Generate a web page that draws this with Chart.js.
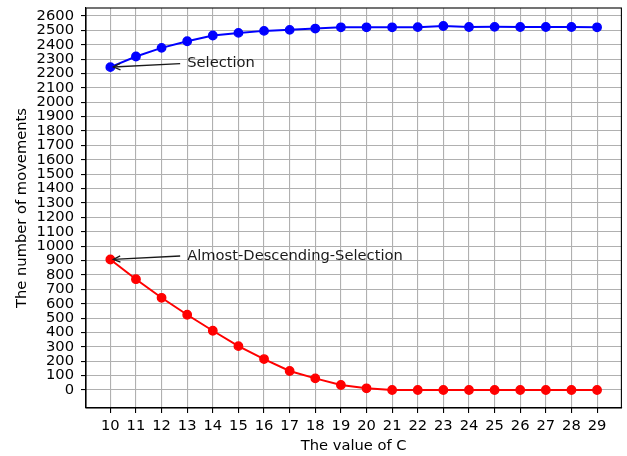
<!DOCTYPE html>
<html>
<head>
<meta charset="utf-8">
<script src="https://cdn.jsdelivr.net/npm/chart.js@4/dist/chart.umd.min.js"></script>
<style>
  html, body { margin: 0; padding: 0; background: #fff; }
  canvas { display: block; }
</style>
</head>
<body>
<canvas id="c" width="627" height="456"></canvas>
<script>
// ---- data ----
const cValues = [10,11,12,13,14,15,16,17,18,19,20,21,22,23,24,25,26,27,28,29];
const selection = [2244,2318,2378,2424,2464,2482,2496,2503,2512,2521,2521,2521,2522,2530,2523,2524,2523,2523,2523,2521];
const almostDescending = [907,770,641,523,412,305,215,132,81,35,12,0,0,0,0,0,0,0,0,0];
const xTickValues = [10,11,12,13,14,15,16,17,18,19,20,21,22,23,24,25,26,27,28,29];
const yTickValues = [0,100,200,300,400,500,600,700,800,900,1000,1100,1200,1300,1400,1500,1600,1700,1800,1900,2000,2100,2200,2300,2400,2500,2600];
const annotations = [
  { text: 'Selection', pointX: 10, pointY: 2244, textX: 13, textY: 2244 },
  { text: 'Almost-Descending-Selection', pointX: 10, pointY: 907, textX: 13, textY: 907 }
];

const FONT = 'DejaVu Sans';
const FS = 14.7;

const framePlugin = {
  id: 'frame',
  afterDraw(chart) {
    const { ctx, chartArea: a, scales } = chart;
    ctx.save();
    ctx.strokeStyle = '#000';
    ctx.lineWidth = 1.1;
    ctx.strokeRect(a.left, a.top, a.right - a.left, a.bottom - a.top);
    const xs = scales.x, ys = scales.y;
    ctx.font = FS + 'px "' + FONT + '"';
    ctx.fillStyle = '#1a1a1a';
    ctx.textAlign = 'left';
    ctx.textBaseline = 'alphabetic';
    annotations.forEach(an => {
      const tx = xs.getPixelForValue(an.textX);
      const ty = ys.getPixelForValue(an.textY);
      const px = xs.getPixelForValue(an.pointX);
      const py = ys.getPixelForValue(an.pointY);
      ctx.fillText(an.text, tx, ty);
      const sx = tx - 7, sy = ty - 3.5;
      const ang = Math.atan2(py - sy, px - sx);
      const ex = px - Math.cos(ang) * 3, ey = py - Math.sin(ang) * 3;
      ctx.strokeStyle = '#1a1a1a';
      ctx.lineWidth = 1.3;
      ctx.beginPath();
      ctx.moveTo(sx, sy);
      ctx.lineTo(ex, ey);
      ctx.stroke();
      const hl = 7, hw = 3.2;
      const bx = ex - Math.cos(ang) * hl, by = ey - Math.sin(ang) * hl;
      const nx = -Math.sin(ang), ny = Math.cos(ang);
      ctx.beginPath();
      ctx.moveTo(bx + nx * hw, by + ny * hw);
      ctx.lineTo(ex, ey);
      ctx.lineTo(bx - nx * hw, by - ny * hw);
      ctx.stroke();
    });
    ctx.restore();
  }
};

const toPts = (arr) => cValues.map((c, i) => ({ x: c, y: arr[i] }));
const noPad = s => { s.paddingTop = 0; s.paddingBottom = 0; s.paddingLeft = 0; s.paddingRight = 0; };

new Chart(document.getElementById('c'), {
  type: 'line',
  data: {
    datasets: [
      {
        data: toPts(selection),
        borderColor: '#0000ff',
        backgroundColor: '#0000ff',
        pointBackgroundColor: '#0000ff',
        pointBorderColor: '#0000ff',
        borderWidth: 2,
        pointRadius: 4.2,
        pointBorderWidth: 1.4,
        tension: 0
      },
      {
        data: toPts(almostDescending),
        borderColor: '#ff0000',
        backgroundColor: '#ff0000',
        pointBackgroundColor: '#ff0000',
        pointBorderColor: '#ff0000',
        borderWidth: 2,
        pointRadius: 4.2,
        pointBorderWidth: 1.4,
        tension: 0
      }
    ]
  },
  options: {
    responsive: false,
    animation: false,
    layout: { padding: { top: 8, right: 5, left: 0, bottom: 0 } },
    plugins: { legend: { display: false }, tooltip: { enabled: false } },
    scales: {
      x: {
        type: 'linear',
        min: 9.05,
        max: 29.95,
        afterBuildTicks: s => { s.ticks = xTickValues.map(v => ({ value: v })); },
        afterFit: s => { s.height = 48; noPad(s); },
        grid: { color: '#b0b0b0', lineWidth: 1.1, tickColor: '#000', tickLength: 5, drawTicks: true },
        border: { display: true, color: '#000', width: 1.1 },
        ticks: { color: '#000', font: { family: FONT, size: FS }, padding: 4, maxRotation: 0, autoSkip: false, callback: v => String(v) },
        title: { display: true, text: 'The value of C', color: '#000', font: { family: FONT, size: FS }, padding: { top: 0, bottom: 1 } }
      },
      y: {
        type: 'linear',
        min: -125,
        max: 2655,
        afterBuildTicks: s => { s.ticks = yTickValues.map(v => ({ value: v })); },
        afterFit: s => { s.width = 86; noPad(s); },
        grid: { color: '#b0b0b0', lineWidth: 1.1, tickColor: '#000', tickLength: 5, drawTicks: true },
        border: { display: true, color: '#000', width: 1.1 },
        ticks: { color: '#000', font: { family: FONT, size: FS }, padding: 7, autoSkip: false, callback: v => String(v) },
        title: { display: true, text: 'The number of movements', color: '#000', font: { family: FONT, size: FS }, padding: { top: 13, bottom: 0 } }
      }
    }
  },
  plugins: [framePlugin]
});
</script>
</body>
</html>
